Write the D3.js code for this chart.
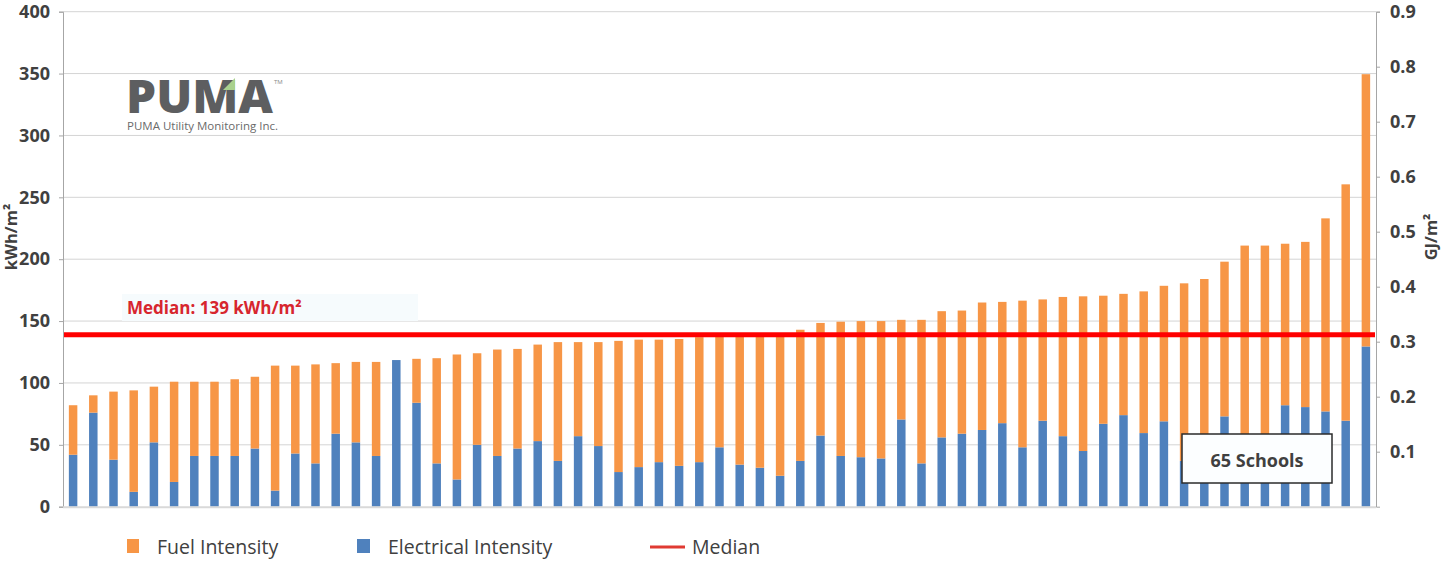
<!DOCTYPE html>
<html><head><meta charset="utf-8">
<script src="https://cdn.jsdelivr.net/npm/d3@7"></script>
<style>body{margin:0;background:#fff;} svg{display:block;font-family:"Open Sans",sans-serif;}</style>
</head><body><svg id="c" width="1442" height="565"></svg>
<script>
// ---- data ----
const schools = d3.range(1, 66).map(i => "School " + i);
const electrical = [42,76,38,12,52,20,41,41,41,47,13,43,35,59,52,41,118.5,84,35,22,50,41,47,53,37,57,49,28,32,36,33,36,48,34,31.5,25,37,57.5,41,40,39,70.5,35,56,59,62,67.5,48,69.5,57,45,67,74,59.5,69,37,50,73,46,52,82,80.5,77,69.5,129.5];
const fuel = [40,14,55,82,45,81,60,60,62,58,101,71,80,57,65,76,0,35.5,85,101,74,86,80.5,78,96,76,84,106,103,99,102.5,101,90.5,105,108,115,106,91,108.5,110,111,80.5,116,102,99.5,103,98,118.5,98,112.5,125,103.5,98,114.5,109.5,143.5,134,125,165,159,130.5,133.5,156,191,220];
const leftTicks = [0,50,100,150,200,250,300,350,400];
const rightTicks = [0.1,0.2,0.3,0.4,0.5,0.6,0.7,0.8,0.9];
const medianValue = 139;
const seriesNames = ["Fuel Intensity","Electrical Intensity","Median"];

// ---- layout ----
const svg = d3.select("#c");
const L = 63, R = 1376, B = 506.7, T = 11.7;
const x = d3.scaleBand().domain(schools).range([L, R]).paddingInner(0.58).paddingOuter(0.29);
const y = d3.scaleLinear().domain([0, 400]).range([B, T]);
const y2 = d3.scaleLinear().domain([0, 0.9]).range([B, T]);
const colors = {electrical: "#4f81bd", fuel: "#f79646"};
const textCol = "#404040";

// gridlines
svg.append("g").selectAll("line").data(leftTicks.filter(d => d > 0)).join("line")
  .attr("x1", L).attr("x2", R).attr("y1", d => y(d)).attr("y2", d => y(d))
  .attr("stroke", "#d4d4d4").attr("stroke-width", 1);

// logo
const logo = svg.append("g");
logo.append("text").attr("x", 126).attr("y", 112.5).attr("font-size", 46).attr("font-weight", 800)
  .attr("fill", "#5d5e60").attr("textLength", 147).attr("lengthAdjust", "spacingAndGlyphs").text("PUMA");
logo.append("polygon").attr("points", "223,90 235,78 235,90").attr("fill", "#a9d18e");
logo.append("text").attr("x", 274).attr("y", 84).attr("font-size", 6).attr("fill", "#888").text("TM");
logo.append("text").attr("x", 127).attr("y", 130).attr("font-size", 10.5).attr("fill", "#6a6a6a")
  .attr("textLength", 151).attr("lengthAdjust", "spacingAndGlyphs").text("PUMA Utility Monitoring Inc.");

// stacked bars
const rows = schools.map((s, i) => ({school: s, electrical: electrical[i], fuel: fuel[i]}));
const stack = d3.stack().keys(["electrical", "fuel"])(rows);
svg.append("g").selectAll("g").data(stack).join("g")
  .attr("fill", d => colors[d.key])
  .selectAll("rect").data(d => d).join("rect")
  .attr("x", d => x(d.data.school)).attr("width", x.bandwidth())
  .attr("y", d => y(d[1])).attr("height", d => y(d[0]) - y(d[1]));

// axes
const gL = svg.append("g").attr("transform", `translate(${L},0)`)
  .call(d3.axisLeft(y).tickValues(leftTicks).tickSize(4).tickPadding(9));
const gR = svg.append("g").attr("transform", `translate(${R},0)`)
  .call(d3.axisRight(y2).tickValues(rightTicks).tickSize(4).tickPadding(10).tickFormat(d3.format(".1f")));
[gL, gR].forEach(g => {
  g.select(".domain").attr("stroke", "#a6a6a6");
  g.selectAll(".tick line").attr("stroke", "#a6a6a6");
  g.selectAll(".tick text").attr("font-size", 18).attr("font-weight", 700).attr("fill", textCol)
    .attr("font-family", "'Open Sans', sans-serif");
});
svg.append("line").attr("x1", L).attr("x2", R).attr("y1", B + 0.5).attr("y2", B + 0.5)
  .attr("stroke", "#d9d9d9").attr("stroke-width", 2);

// axis titles
svg.append("text").attr("transform", "translate(17,237) rotate(-90)").attr("text-anchor", "middle")
  .attr("font-size", 16.5).attr("font-weight", 700).attr("fill", textCol).text("kWh/m²");
svg.append("text").attr("transform", "translate(1437,237) rotate(-90)").attr("text-anchor", "middle")
  .attr("font-size", 16.5).attr("font-weight", 700).attr("fill", textCol).text("GJ/m²");

// median
svg.append("rect").attr("x", 122).attr("y", 294).attr("width", 296).attr("height", 27).attr("fill", "#f6fbfd");
svg.append("text").attr("x", 127).attr("y", 314).attr("font-size", 17).attr("font-weight", 700)
  .attr("fill", "#d7262e").text("Median: " + medianValue + " kWh/m²");
svg.append("line").attr("x1", L + 1).attr("x2", R - 1).attr("y1", y(medianValue)).attr("y2", y(medianValue))
  .attr("stroke", "#ff0000").attr("stroke-width", 5);

// 65 Schools box
svg.append("rect").attr("x", 1182).attr("y", 434).attr("width", 150).attr("height", 49)
  .attr("fill", "#fcfeff").attr("stroke", "#2b2b2b").attr("stroke-width", 1.5);
svg.append("text").attr("x", 1257).attr("y", 467).attr("text-anchor", "middle").attr("font-size", 18)
  .attr("font-weight", 700).attr("fill", textCol).text(schools.length + " Schools");

// legend
const lg = svg.append("g");
lg.append("rect").attr("x", 127).attr("y", 539).attr("width", 12).attr("height", 14).attr("fill", colors.fuel);
lg.append("text").attr("x", 157).attr("y", 554).attr("font-size", 19.5).attr("fill", textCol).text(seriesNames[0]);
lg.append("rect").attr("x", 357).attr("y", 539).attr("width", 13).attr("height", 14).attr("fill", colors.electrical);
lg.append("text").attr("x", 388).attr("y", 554).attr("font-size", 19.5).attr("fill", textCol).text(seriesNames[1]);
lg.append("line").attr("x1", 650).attr("x2", 685).attr("y1", 547).attr("y2", 547).attr("stroke", "#e03a32").attr("stroke-width", 3);
lg.append("text").attr("x", 692).attr("y", 554).attr("font-size", 19.5).attr("fill", textCol).text(seriesNames[2]);
</script></body></html>
